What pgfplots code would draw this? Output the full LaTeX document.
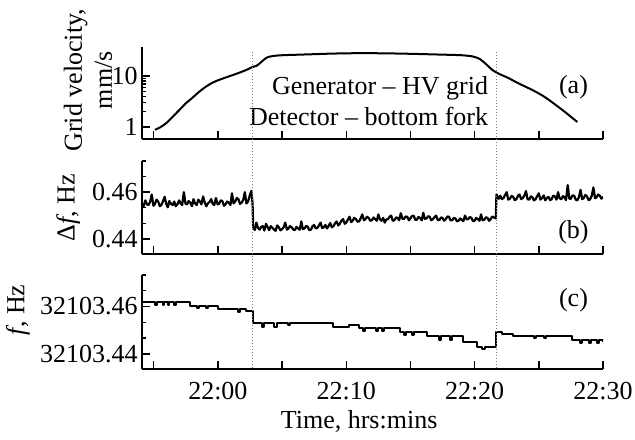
\documentclass[border=0pt]{standalone}
\usepackage{fontspec}
\setmainfont{Liberation Serif}
\usepackage{pgfplots}
\pgfplotsset{compat=1.18}
\pgfplotsset{
  panel/.style={
    width=230.5pt, scale only axis,
    xmin=-5.91, xmax=30,
    axis x line*=bottom, axis y line*=left,
    axis line style={-, line width=0.9pt},
    tick align=inside,
    tick style={black, line width=0.7pt},
    major tick length=3.8pt, minor tick length=2.2pt,
    xtick={-5,0,...,30}, xticklabels={},
    font=\fontsize{13}{15}\selectfont,
    yticklabel style={inner sep=2pt},
    clip=true,
  },
  fpanel/.style={
    panel, ymin=0.4336, ymax=0.4733,
    ytick={0.44,0.46}, yticklabels={0.44,0.46},
    minor ytick={0.44667,0.45333,0.46667,0.47333},
  },
  curve/.style={black, line width=1pt, line join=round},
}
\begin{document}
\begin{tikzpicture}
% (a) grid velocity
\begin{axis}[panel, at={(0,115pt)}, height=46pt,
  ymode=log, ymin=0.58, ymax=37,
  ytick={1,10}, yticklabels={1,10},
  ylabel={Grid velocity,\\mm/s},
  ylabel style={align=center, at={(axis description cs:-0.117,0.64)}, anchor=center},
]
\addplot[curve, smooth, tension=0.4] coordinates {
(-4.9,0.88) (-4.5,0.98) (-4,1.2) (-3.5,1.6) (-3,2.15) (-2.5,2.9) (-2,3.7) (-1.5,4.8)
(-1,6.0) (-0.5,7.2) (0,8.2) (0.6,9.3) (1.2,10.5) (1.8,11.9) (2.3,13.4) (2.7,15.0)
(3.0,15.8) (3.3,18) (3.6,21) (3.9,23.5) (4.4,24.8) (5,25.5) (7,26.5) (9,27.5)
(11,28) (13,27.8) (15,27.2) (17,26.4) (19,25.5) (19.9,24) (20.4,21.5) (20.9,17)
(21.4,13) (21.9,11) (22.6,9.2) (23.3,7.4) (24.5,5.3) (25.3,4.1) (26,3.1) (27,2.0) (28,1.25)
};
\node[anchor=east] at (axis cs:21.6,5.8) {Generator -- HV grid};
\node[anchor=east] at (axis cs:21.6,1.62) {Detector -- bottom fork};
\node at (axis cs:27.7,6.1) {(a)};
\coordinate (a1) at (axis cs:2.72,30);
\coordinate (a2) at (axis cs:21.71,30);
\end{axis}
% (b) delta f
\begin{axis}[fpanel, at={(0,57.5pt)}, height=46.5pt,
  ylabel={Δ\textit{f}, Hz},
  ylabel style={at={(axis description cs:-0.16,0.5)}, anchor=center},
]
\addplot[curve, line width=1.1pt] table {
-5.90 0.4550
-5.78 0.4540
-5.65 0.4565
-5.52 0.4548
-5.40 0.4545
-5.28 0.4558
-5.15 0.4590
-5.02 0.4542
-4.90 0.4550
-4.78 0.4568
-4.65 0.4560
-4.52 0.4540
-4.40 0.4545
-4.28 0.4560
-4.15 0.4580
-4.02 0.4550
-3.90 0.4535
-3.78 0.4562
-3.65 0.4550
-3.52 0.4545
-3.40 0.4560
-3.28 0.4540
-3.15 0.4548
-3.02 0.4565
-2.90 0.4552
-2.78 0.4545
-2.65 0.4600
-2.52 0.4550
-2.40 0.4548
-2.28 0.4562
-2.15 0.4555
-2.02 0.4540
-1.90 0.4570
-1.78 0.4552
-1.65 0.4545
-1.52 0.4568
-1.40 0.4560
-1.28 0.4548
-1.15 0.4582
-1.02 0.4555
-0.90 0.4540
-0.78 0.4552
-0.65 0.4558
-0.52 0.4570
-0.40 0.4550
-0.28 0.4545
-0.15 0.4575
-0.02 0.4548
0.10 0.4550
0.22 0.4565
0.35 0.4562
0.48 0.4542
0.60 0.4548
0.72 0.4560
0.85 0.4555
0.98 0.4545
1.10 0.4595
1.22 0.4552
1.35 0.4560
1.48 0.4575
1.60 0.4570
1.72 0.4550
1.85 0.4555
1.98 0.4568
2.10 0.4600
2.22 0.4552
2.35 0.4560
2.48 0.4585
2.60 0.4605
2.70 0.4555
2.75 0.4450
2.88 0.4438
3.00 0.4470
3.12 0.4448
3.25 0.4440
3.38 0.4452
3.50 0.4455
3.62 0.4436
3.75 0.4465
3.88 0.4450
4.00 0.4438
4.12 0.4455
4.25 0.4448
4.38 0.4440
4.50 0.4435
4.62 0.4458
4.75 0.4450
4.88 0.4437
5.00 0.4442
5.12 0.4450
5.25 0.4470
5.38 0.4440
5.50 0.4445
5.62 0.4455
5.75 0.4450
5.88 0.4440
6.00 0.4438
6.12 0.4452
6.25 0.4445
6.38 0.4440
6.50 0.4475
6.62 0.4442
6.75 0.4445
6.88 0.4456
7.00 0.4452
7.12 0.4438
7.25 0.4440
7.38 0.4455
7.50 0.4460
7.62 0.4445
7.75 0.4448
7.88 0.4458
8.00 0.4470
8.12 0.4447
8.25 0.4450
8.38 0.4460
8.50 0.4445
8.62 0.4455
8.75 0.4468
8.88 0.4450
9.00 0.4455
9.12 0.4466
9.25 0.4475
9.38 0.4458
9.50 0.4465
9.62 0.4478
9.75 0.4485
9.88 0.4465
10.00 0.4470
10.12 0.4482
10.25 0.4495
10.38 0.4472
10.50 0.4478
10.62 0.4490
10.75 0.4485
10.88 0.4474
11.00 0.4475
11.12 0.4488
11.25 0.4505
11.38 0.4480
11.50 0.4485
11.62 0.4495
11.75 0.4490
11.88 0.4478
12.00 0.4480
12.12 0.4492
12.25 0.4485
12.38 0.4478
12.50 0.4505
12.62 0.4485
12.75 0.4478
12.88 0.4490
13.00 0.4470
13.12 0.4483
13.25 0.4485
13.38 0.4495
13.50 0.4500
13.62 0.4478
13.75 0.4480
13.88 0.4492
14.00 0.4490
14.12 0.4480
14.25 0.4510
14.38 0.4486
14.50 0.4485
14.62 0.4496
14.75 0.4495
14.88 0.4480
15.00 0.4488
15.12 0.4498
15.25 0.4500
15.38 0.4482
15.50 0.4482
15.62 0.4494
15.75 0.4490
15.88 0.4480
16.00 0.4512
16.12 0.4486
16.25 0.4488
16.38 0.4497
16.50 0.4495
16.62 0.4480
16.75 0.4485
16.88 0.4494
17.00 0.4500
17.12 0.4482
17.25 0.4480
17.38 0.4492
17.50 0.4490
17.62 0.4478
17.75 0.4485
17.88 0.4496
18.00 0.4495
18.12 0.4480
18.25 0.4480
18.38 0.4490
18.50 0.4488
18.62 0.4476
18.75 0.4478
18.88 0.4488
19.00 0.4482
19.12 0.4476
19.25 0.4500
19.38 0.4484
19.50 0.4485
19.62 0.4494
19.75 0.4490
19.88 0.4476
20.00 0.4478
20.12 0.4490
20.25 0.4485
20.38 0.4478
20.50 0.4505
20.62 0.4480
20.75 0.4482
20.88 0.4493
21.00 0.4490
21.12 0.4478
21.25 0.4485
21.38 0.4496
21.50 0.4492
21.65 0.4488
21.70 0.4590
21.88 0.4572
22.00 0.4585
22.12 0.4570
22.25 0.4575
22.38 0.4588
22.50 0.4600
22.62 0.4568
22.75 0.4572
22.88 0.4584
23.00 0.4580
23.12 0.4566
23.25 0.4570
23.38 0.4585
23.50 0.4590
23.62 0.4570
23.75 0.4575
23.88 0.4586
24.00 0.4605
24.12 0.4570
24.25 0.4568
24.38 0.4582
24.50 0.4578
24.62 0.4565
24.75 0.4570
24.88 0.4584
25.00 0.4595
25.12 0.4568
25.25 0.4575
25.38 0.4586
25.50 0.4565
25.62 0.4575
25.75 0.4580
25.88 0.4566
26.00 0.4570
26.12 0.4585
26.25 0.4582
26.38 0.4568
26.50 0.4600
26.62 0.4574
26.75 0.4570
26.88 0.4583
27.00 0.4578
27.12 0.4566
27.25 0.4630
27.38 0.4572
27.50 0.4572
27.62 0.4586
27.75 0.4585
27.88 0.4568
28.00 0.4565
28.12 0.4578
28.25 0.4610
28.38 0.4570
28.50 0.4575
28.62 0.4588
28.75 0.4582
28.88 0.4566
29.00 0.4570
29.12 0.4584
29.25 0.4620
29.38 0.4574
29.50 0.4578
29.62 0.4590
29.75 0.4585
29.88 0.4572
30.00 0.4580
};
\node at (axis cs:27.7,0.4430) {(b)};
\end{axis}
% (c) f
\begin{axis}[fpanel, at={(0,0)}, height=47pt,
  yticklabels={32103.44,32103.46},
  xticklabels={{},22:00,{},22:10,{},22:20,{},22:30},
  xticklabel style={yshift=-3pt},
  ylabel={\textit{f}, Hz},
  ylabel style={at={(axis description cs:-0.269,0.63)}, anchor=center},
  xlabel={Time, hrs:mins},
  xlabel style={at={(axis description cs:0.471,-0.559)}, anchor=center},
]
\addplot[curve, const plot] coordinates {
(-5.90,0.4617) (-4.90,0.4605) (-4.75,0.4617) (-4.30,0.4605) (-4.20,0.4617) (-3.90,0.4605)
(-3.80,0.4617) (-3.40,0.4605) (-3.25,0.4617)
(-2.20,0.4604) (-1.60,0.4592) (-1.45,0.4604) (-0.90,0.4592) (-0.80,0.4604)
(0.00,0.4588) (1.60,0.4575) (1.75,0.4588) (2.20,0.4580)
(2.75,0.4529) (3.40,0.4512) (3.60,0.4529) (4.40,0.4512) (4.60,0.4529) (5.50,0.4520) (5.60,0.4529)
(9.00,0.4513) (10.20,0.4520)
(11.00,0.4508) (11.30,0.4495) (11.45,0.4508) (12.30,0.4495) (12.45,0.4508) (12.80,0.4495) (12.95,0.4508)
(14.20,0.4493) (14.50,0.4478) (14.65,0.4493) (15.10,0.4478) (15.25,0.4493)
(16.30,0.4475) (17.20,0.4460) (17.35,0.4475) (18.10,0.4460) (18.25,0.4475)
(19.10,0.4451)
(20.20,0.4429) (20.60,0.4420) (20.80,0.4429)
(21.70,0.4493) (22.10,0.4485) (23.00,0.4475) (24.60,0.4466) (24.75,0.4475) (25.40,0.4466) (25.55,0.4475)
(27.60,0.4458) (28.20,0.4447) (28.35,0.4458) (28.90,0.4447) (29.05,0.4458) (29.50,0.4447) (29.65,0.4458) (30.00,0.4450)
};
\node at (axis cs:27.7,0.4625) {(c)};
\coordinate (c1) at (axis cs:2.72,0.4336);
\coordinate (c2) at (axis cs:21.71,0.4336);
\end{axis}
\draw[densely dotted, gray, line width=0.5pt] (a1) -- (c1);
\draw[densely dotted, gray, line width=0.5pt] (a2) -- (c2);
\pgfresetboundingbox
\path (-71pt,-35pt) rectangle (246.5pt,184.5pt);
\end{tikzpicture}
\end{document}
